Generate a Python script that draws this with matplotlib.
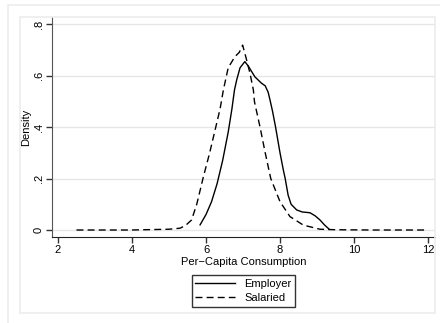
import numpy as np
import matplotlib
matplotlib.use('Agg')
import matplotlib.pyplot as plt
from matplotlib.patches import Rectangle

plt.rcParams['font.family'] = ['Liberation Sans', 'DejaVu Sans']

# kernel density curves
emp_x = [5.84, 6.0, 6.15, 6.3, 6.45, 6.6, 6.7, 6.77, 6.83, 6.92, 7.05, 7.15, 7.32, 7.5, 7.6,
         7.68, 7.73, 7.8, 7.88, 8.0, 8.09, 8.14, 8.22, 8.3, 8.45, 8.6, 8.81, 8.95, 9.08, 9.2, 9.33]
emp_y = [0.02, 0.06, 0.11, 0.18, 0.27, 0.38, 0.47, 0.544, 0.583, 0.63, 0.654, 0.635, 0.595, 0.57, 0.56,
         0.535, 0.505, 0.46, 0.40, 0.30, 0.233, 0.2, 0.135, 0.1, 0.078, 0.07, 0.067, 0.055, 0.039, 0.02, 0.003]

sal_x = [2.5, 4.0, 5.0, 5.3, 5.45, 5.61, 5.75, 5.93, 6.1, 6.24, 6.38, 6.47, 6.6, 6.78, 6.9, 6.99,
         7.08, 7.19, 7.28, 7.31, 7.46, 7.6, 7.75, 8.0, 8.27, 8.63, 9.08, 9.5, 10.5, 12.0]
sal_y = [0.0, 0.0, 0.003, 0.007, 0.018, 0.039, 0.1, 0.207, 0.3, 0.385, 0.47, 0.544, 0.63, 0.673, 0.69, 0.718,
         0.67, 0.608, 0.544, 0.498, 0.4, 0.3, 0.2, 0.11, 0.052, 0.019, 0.003, 0.001, 0.0, 0.0]

xticks = [2, 4, 6, 8, 10, 12]
yticks = [0, 0.2, 0.4, 0.6, 0.8]
ylabels = ['0', '.2', '.4', '.6', '.8']

W, H = 440, 323
fig = plt.figure(figsize=(W / 100, H / 100), dpi=100)
fig.patch.set_facecolor('white')

# light frames of the graph region
fig.patches.append(Rectangle((8 / W, -0.1), 1.2, 1 - 5 / H + 0.1, transform=fig.transFigure,
                             fill=False, edgecolor='#ececec', lw=1.2))
fig.patches.append(Rectangle((20 / W, 1 - 313 / H), (435 - 20) / W, (313 - 17) / H,
                             transform=fig.transFigure, fill=False, edgecolor='#ececec', lw=1.2))

ax = fig.add_axes([52 / W, 1 - 237 / H, (435 - 52) / W, (237 - 17) / H])
ax.plot(emp_x, emp_y, color='black', lw=1.0, label='Employer')
ax.plot(sal_x, sal_y, color='black', lw=1.0, ls=(0, (5, 3)), label='Salaried')

ax.set_xlim(2 - 6 / 37, 12 + 7 / 37)
ax.set_ylim(-7 / 257.5, 0.8 + 7 / 257.5)
ax.set_xticks(xticks)
ax.set_xticklabels([str(t) for t in xticks], fontsize=8)
ax.set_yticks(yticks)
ax.set_yticklabels(ylabels, fontsize=8, rotation=90, va='center')
ax.yaxis.grid(True, color='#e6e6e6', lw=1.0)
ax.set_axisbelow(True)
ax.tick_params(axis='both', length=4, width=1, color='#333333', pad=2)
for s in ['top', 'right']:
    ax.spines[s].set_visible(False)
ax.spines['left'].set_color('#555555')
ax.spines['bottom'].set_color('#222222')
ax.set_xlabel('Per\u2212Capita Consumption', fontsize=8, labelpad=1)
ax.set_ylabel('Density', fontsize=8, labelpad=2)

leg = fig.legend(loc='center', bbox_to_anchor=(243.5 / W, 1 - 291 / H), fontsize=8,
                 frameon=True, fancybox=False, edgecolor='black', handlelength=3.6,
                 handletextpad=0.8, borderpad=0.35, labelspacing=0.3, borderaxespad=0)
leg.get_frame().set_linewidth(1.0)

fig.savefig('out.png', dpi=100)
